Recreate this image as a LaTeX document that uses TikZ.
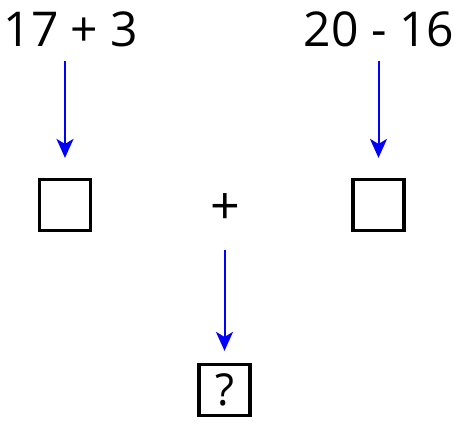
\documentclass[tikz,border=0pt]{standalone}
\usepackage{fontspec}
\setmainfont{Open Sans}
\usetikzlibrary{arrows.meta}
\begin{document}
\begin{tikzpicture}[x=1pt,y=-1pt,
  lbl/.style={inner sep=0pt,font=\fontsize{48}{48}\selectfont},
  ansbox/.style={draw,line width=3.2pt,inner sep=0pt,minimum width=51pt,minimum height=51pt},
  arr/.style={draw=blue,line width=2pt,-{Stealth[length=19pt,width=17pt,inset=5pt]}}]
\useasboundingbox (0,0) rectangle (455,425);
\node[lbl,anchor=base] (t1) at (71,47) {17 + 3};
\node[lbl,anchor=base] (t2) at (379,47) {20 - 16};
\node[ansbox] (b1) at (65,205) {};
\node[ansbox] (b2) at (378.5,205) {};
\node[lbl,font=\fontsize{52}{52}\selectfont] (p) at (225.5,209) {+};
\node[ansbox,font=\fontsize{44}{44}\selectfont] (q) at (224.5,390) {?};
\draw[arr,shorten <=13pt,shorten >=20pt] (b1 |- t1.south) -- (b1.north);
\draw[arr,shorten <=13pt,shorten >=20pt] (b2 |- t2.south) -- (b2.north);
\draw[arr,shorten <=41pt,shorten >=12pt] (q |- p.center) -- (q.north);
\end{tikzpicture}
\end{document}
